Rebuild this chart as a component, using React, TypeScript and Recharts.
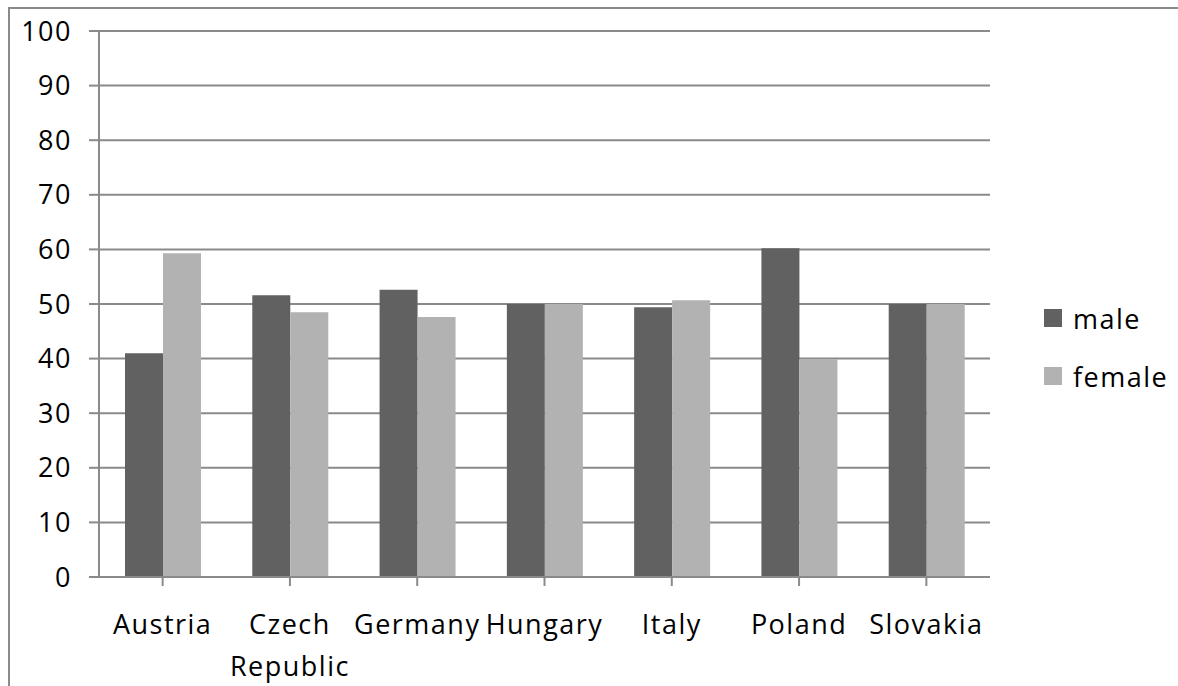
import React from "react";
import { BarChart, Bar, XAxis, YAxis, CartesianGrid, Legend } from "recharts";

const countries = ["Austria", "Czech Republic", "Germany", "Hungary", "Italy", "Poland", "Slovakia"];
const male = [41.0, 51.6, 52.6, 50.0, 49.4, 60.2, 50.0];
const female = [59.3, 48.5, 47.6, 50.0, 50.7, 39.9, 50.0];
const yTicks = [0, 10, 20, 30, 40, 50, 60, 70, 80, 90, 100];

const data = countries.map((country, i) => ({ country, male: male[i], female: female[i] }));

const FONT = "'Open Sans', sans-serif";
const FONT_SIZE = 27;
const SPACING = 1.5;
const GRID = "#8a8a8a";
const MALE_COLOR = "#616161";
const FEMALE_COLOR = "#b2b2b2";

function CountryTick(props: any) {
  const { x, y, payload } = props;
  const words: string[] = String(payload.value).split(" ");
  return (
    <text x={x} y={y} textAnchor="middle" fill="#000" fontSize={FONT_SIZE} fontFamily={FONT} letterSpacing={SPACING}>
      {words.map((w, i) => (
        <tspan key={i} x={x} dy={i === 0 ? 48 : 42}>
          {w}
        </tspan>
      ))}
    </text>
  );
}

function LegendContent() {
  const items = [
    { name: "male", color: MALE_COLOR },
    { name: "female", color: FEMALE_COLOR },
  ];
  return (
    <div style={{ fontFamily: FONT, fontSize: FONT_SIZE, letterSpacing: SPACING }}>
      {items.map((it) => (
        <div key={it.name} style={{ display: "flex", alignItems: "center", height: 58 }}>
          <span style={{ width: 18, height: 18, background: it.color, display: "inline-block", marginRight: 11 }} />
          <span>{it.name}</span>
        </div>
      ))}
    </div>
  );
}

export default function App() {
  return (
    <div style={{ position: "absolute", left: 0, top: 0, width: 1178, height: 686, background: "#fff", overflow: "hidden" }}>
      <div
        style={{
          position: "absolute",
          left: 8,
          top: 7,
          width: 1200,
          height: 700,
          borderLeft: `2px solid ${GRID}`,
          borderTop: `2px solid ${GRID}`,
        }}
      />
      <BarChart
        width={1178}
        height={686}
        data={data}
        margin={{ top: 31, right: 188, bottom: 0, left: 9 }}
        barGap={0}
        barSize={38}
      >
        <CartesianGrid horizontal vertical={false} stroke={GRID} strokeWidth={2} />
        <XAxis
          dataKey="country"
          stroke={GRID}
          strokeWidth={2}
          tickSize={9}
          tickMargin={0}
          tick={<CountryTick />}
          interval={0}
          height={109}
        />
        <YAxis
          domain={[0, 100]}
          ticks={yTicks}
          interval={0}
          width={90}
          stroke={GRID}
          strokeWidth={2}
          tickSize={10}
          tickMargin={17}
          tick={{ fill: "#000", fontSize: FONT_SIZE, fontFamily: FONT, letterSpacing: SPACING }}
        />
        <Legend
          layout="vertical"
          align="center"
          verticalAlign="middle"
          content={<LegendContent />}
          wrapperStyle={{ left: 1044, top: 289, width: 134 }}
        />
        <Bar dataKey="male" fill={MALE_COLOR} isAnimationActive={false} />
        <Bar dataKey="female" fill={FEMALE_COLOR} isAnimationActive={false} />
      </BarChart>
    </div>
  );
}
